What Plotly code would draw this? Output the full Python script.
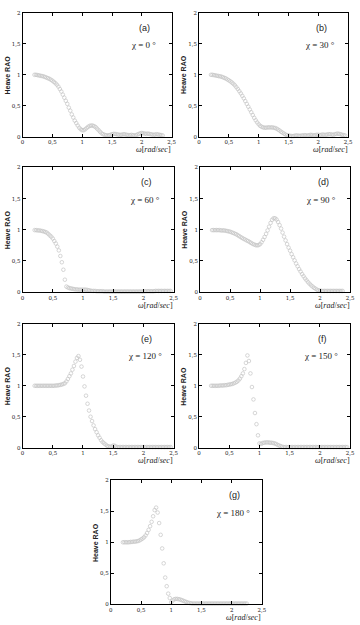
import plotly.graph_objects as go

omega = [0.2, 0.225, 0.25, 0.275, 0.3, 0.325, 0.35, 0.375, 0.4, 0.425,
         0.45, 0.475, 0.5, 0.525, 0.55, 0.575, 0.6, 0.625, 0.65, 0.675,
         0.7, 0.725, 0.75, 0.775, 0.8, 0.825, 0.85, 0.875, 0.9, 0.925,
         0.95, 0.975, 1.0, 1.025, 1.05, 1.075, 1.1, 1.125, 1.15, 1.175,
         1.2, 1.225, 1.25, 1.275, 1.3, 1.325, 1.35, 1.375, 1.4, 1.425,
         1.45, 1.475, 1.5, 1.525, 1.55, 1.575, 1.6, 1.625, 1.65, 1.675,
         1.7, 1.725, 1.75, 1.775, 1.8, 1.825, 1.85, 1.875, 1.9, 1.925,
         1.95, 1.975, 2.0, 2.025, 2.05, 2.075, 2.1, 2.125, 2.15, 2.175,
         2.2, 2.225, 2.25, 2.275, 2.3, 2.325, 2.35, 2.375, 2.4, 2.425,
         2.45]

rao_0 = [1.0, 1.0, 0.995, 0.99, 0.985, 0.98, 0.975, 0.965, 0.955, 0.945,
         0.935, 0.92, 0.905, 0.885, 0.865, 0.84, 0.81, 0.77, 0.73, 0.68,
         0.63, 0.58, 0.53, 0.47, 0.42, 0.36, 0.31, 0.26, 0.22, 0.18,
         0.145, 0.12, 0.105, 0.105, 0.12, 0.14, 0.16, 0.175, 0.18, 0.18,
         0.17, 0.155, 0.13, 0.105, 0.08, 0.055, 0.04, 0.03, 0.025, 0.02,
         0.025, 0.03, 0.04, 0.045, 0.045, 0.04, 0.035, 0.03, 0.03, 0.035,
         0.04, 0.035, 0.03, 0.025, 0.025, 0.03, 0.025, 0.02, 0.025, 0.035,
         0.045, 0.055, 0.06, 0.055, 0.05, 0.045, 0.05, 0.045, 0.04, 0.035,
         0.03, 0.035, 0.04, 0.035, 0.03, 0.025, 0.02, None, None, None,
         None]

rao_30 = [1.0, 1.0, 0.995, 0.99, 0.985, 0.98, 0.975, 0.97, 0.96, 0.95,
          0.94, 0.925, 0.91, 0.895, 0.875, 0.855, 0.83, 0.8, 0.77, 0.735,
          0.7, 0.66, 0.62, 0.575, 0.53, 0.485, 0.44, 0.395, 0.35, 0.305,
          0.265, 0.23, 0.2, 0.175, 0.16, 0.15, 0.145, 0.145, 0.15, 0.15,
          0.15, 0.15, 0.145, 0.14, 0.13, 0.115, 0.1, 0.08, 0.065, 0.05,
          0.035, 0.025, 0.02, 0.015, 0.01, 0.01, 0.015, 0.02, 0.02, 0.015,
          0.015, 0.02, 0.02, 0.025, 0.02, 0.02, 0.025, 0.03, 0.025, 0.02,
          0.025, 0.03, 0.03, 0.025, 0.03, 0.035, 0.03, 0.03, 0.035, 0.04,
          0.04, 0.035, 0.03, 0.04, 0.045, 0.05, 0.045, 0.04, 0.03, 0.025,
          0.02]

rao_60 = [0.995, 0.995, 0.99, 0.99, 0.985, 0.98, 0.975, 0.965, 0.955, 0.935,
          0.91, 0.89, 0.86, 0.82, 0.78, 0.73, 0.67, 0.58, 0.48, 0.36,
          0.2, 0.09, 0.075, 0.065, 0.06, 0.055, 0.05, 0.045, 0.045, 0.04,
          0.04, 0.04, 0.04, 0.04, 0.04, 0.035, 0.03, 0.025, 0.02, 0.02,
          0.02, 0.015, 0.015, 0.015, 0.015, 0.015, 0.01, 0.01, 0.01, 0.01,
          0.01, 0.01, 0.01, 0.01, 0.01, 0.01, 0.01, 0.01, 0.01, 0.01,
          0.01, 0.01, 0.01, 0.01, 0.01, 0.01, 0.01, 0.01, 0.01, 0.01,
          0.01, 0.01, 0.01, 0.015, 0.015, 0.015, 0.015, 0.015, 0.015, 0.015,
          0.02, 0.02, 0.02, 0.02, 0.02, 0.02, 0.02, 0.02, 0.02, 0.02,
          0.02]

rao_90 = [0.995, 0.995, 0.995, 0.995, 0.995, 0.995, 0.99, 0.99, 0.99, 0.985,
          0.98, 0.975, 0.97, 0.96, 0.95, 0.94, 0.93, 0.915, 0.9, 0.885,
          0.87, 0.855, 0.845, 0.83, 0.82, 0.805, 0.79, 0.775, 0.765, 0.755,
          0.75, 0.755, 0.77, 0.8, 0.84, 0.885, 0.935, 0.99, 1.05, 1.11,
          1.16, 1.185, 1.185, 1.165, 1.125, 1.075, 1.02, 0.955, 0.89, 0.83,
          0.77, 0.715, 0.665, 0.61, 0.56, 0.51, 0.46, 0.415, 0.37, 0.33,
          0.29, 0.255, 0.22, 0.19, 0.16, 0.135, 0.11, 0.09, 0.07, 0.055,
          0.04, 0.03, 0.025, 0.02, 0.02, 0.02, 0.02, 0.02, 0.02, 0.02,
          0.02, 0.02, 0.02, 0.02, 0.02, 0.02, 0.02, 0.02, None, None,
          None]

rao_120 = [1.0, 1.0, 1.0, 1.0, 1.0, 1.0, 1.0, 1.0, 1.0, 1.0,
           1.0, 1.0, 1.0, 1.0, 1.005, 1.005, 1.01, 1.015, 1.02, 1.03,
           1.04, 1.07, 1.11, 1.155, 1.2, 1.26, 1.32, 1.39, 1.45, 1.48,
           1.42, 1.31, 1.15, 0.99, 0.84, 0.71, 0.6, 0.5, 0.43, 0.36,
           0.3, 0.25, 0.2, 0.16, 0.12, 0.09, 0.07, 0.05, 0.03, 0.02,
           0.015, 0.02, 0.035, 0.03, 0.015, 0.01, 0.01, 0.01, 0.01, 0.01,
           0.01, 0.01, 0.01, 0.01, 0.01, 0.01, 0.01, 0.01, 0.01, 0.01,
           0.01, 0.01, 0.01, 0.01, 0.01, 0.01, 0.01, 0.01, 0.01, 0.01,
           0.01, 0.01, 0.01, 0.01, 0.01, 0.01, 0.01, 0.01, 0.01, 0.01,
           0.01]

rao_150 = [1.0, 1.0, 1.0, 1.0, 1.0, 1.0, 1.005, 1.005, 1.005, 1.01,
           1.01, 1.015, 1.02, 1.025, 1.03, 1.04, 1.05, 1.065, 1.085, 1.115,
           1.155, 1.2, 1.27, 1.37, 1.49, 1.4, 1.2, 0.98, 0.78, 0.56,
           0.38, 0.2, 0.07, 0.06, 0.075, 0.08, 0.085, 0.085, 0.085, 0.08,
           0.08, 0.075, 0.07, 0.06, 0.045, 0.035, 0.025, 0.015, 0.01, 0.01,
           0.01, 0.01, 0.01, 0.01, 0.01, 0.01, 0.01, 0.01, 0.01, 0.01,
           0.01, 0.01, 0.01, 0.01, 0.01, 0.01, 0.01, 0.01, 0.01, 0.01,
           0.01, 0.01, 0.01, 0.01, 0.01, 0.01, 0.01, 0.01, 0.01, 0.01,
           0.01, 0.01, 0.01, 0.01, 0.01, 0.01, 0.01, 0.01, 0.01, 0.01,
           0.01]

rao_180 = [1.0, 1.0, 1.0, 1.0, 1.0, 1.005, 1.005, 1.01, 1.01, 1.015,
           1.02, 1.03, 1.045, 1.06, 1.08, 1.11, 1.15, 1.2, 1.26, 1.33,
           1.42, 1.52, 1.56, 1.48, 1.31, 1.12, 0.9, 0.66, 0.43, 0.29,
           0.17, 0.1, 0.03, 0.06, 0.08, 0.085, 0.085, 0.08, 0.075, 0.065,
           0.055, 0.045, 0.035, 0.025, 0.02, 0.015, 0.01, 0.01, 0.01, 0.01,
           0.01, 0.01, 0.01, 0.01, 0.01, 0.01, 0.01, 0.01, 0.01, 0.01,
           0.01, 0.01, 0.01, 0.01, 0.01, 0.01, 0.01, 0.01, 0.01, 0.01,
           0.01, 0.01, 0.01, 0.01, 0.01, 0.01, 0.01, 0.01, 0.01, 0.01,
           0.01, 0.01, 0.01, None, None, None, None, None, None, None,
           None]

panel_letters = ["(a)", "(b)", "(c)", "(d)", "(e)", "(f)", "(g)"]
headings = ["0", "30", "60", "90", "120", "150", "180"]
series = [rao_0, rao_30, rao_60, rao_90, rao_120, rao_150, rao_180]

x_tickvals = [0, 0.5, 1, 1.5, 2, 2.5]
x_ticktext = ["0", "0,5", "1", "1,5", "2", "2,5"]
y_tickvals = [0, 0.5, 1, 1.5, 2]
y_ticktext = ["0", "0,5", "1", "1,5", "2"]

W, H = 360, 625
# pixel boxes (left, right, top, bottom) of each plot area
boxes = [(21, 173, 10, 135), (201, 353, 10, 135),
         (21, 175, 166, 292), (202, 355, 166, 292),
         (21, 175, 324, 449), (201, 355, 324, 449),
         (111, 265, 482, 607)]

fig = go.Figure()
layout = dict(width=W, height=H, margin=dict(l=0, r=0, t=0, b=0),
              paper_bgcolor="white", plot_bgcolor="white", showlegend=False)
annotations = []
tickfont = dict(family="DejaVu Serif", size=5.5, color="#222")

for k, (vals, (l, r, t, b)) in enumerate(zip(series, boxes)):
    n = "" if k == 0 else str(k + 1)
    fig.add_trace(go.Scatter(
        x=omega, y=vals, mode="markers", xaxis="x" + n, yaxis="y" + n,
        marker=dict(symbol="circle-open", size=3.6, color="#c4c4c4",
                    line=dict(width=0.7, color="#c4c4c4")),
        cliponaxis=False))
    common = dict(showline=True, linecolor="black", linewidth=1, mirror="ticks",
                  ticks="inside", ticklen=3, tickwidth=1, tickcolor="black",
                  showgrid=False, zeroline=False, tickfont=tickfont)
    layout["xaxis" + n] = dict(domain=[l / W, r / W], anchor="y" + n,
                               range=[0, 2.5], tickvals=x_tickvals,
                               ticktext=x_ticktext, **common)
    layout["yaxis" + n] = dict(domain=[1 - b / H, 1 - t / H], anchor="x" + n,
                               range=[0, 2], tickvals=y_tickvals,
                               ticktext=y_ticktext, **common)
    xr, yr = "x" + n, "y" + n
    annotations.append(dict(x=2.05, y=1.76, xref=xr, yref=yr, text=panel_letters[k],
                            showarrow=False, font=dict(family="Liberation Sans", size=9, color="#222")))
    annotations.append(dict(x=2.02, y=1.48, xref=xr, yref=yr,
                            text="χ = " + headings[k] + " °",
                            showarrow=False, font=dict(family="Liberation Serif", size=9, color="#222")))
    annotations.append(dict(x=1.01, y=-0.105, xref=xr + " domain", yref=yr + " domain",
                            xanchor="right", yanchor="middle",
                            text="<i>ω</i>[<i>rad</i>/<i>sec</i>]", showarrow=False,
                            font=dict(family="Liberation Serif", size=8, color="#222")))
    annotations.append(dict(x=-0.1, y=0.5, xref=xr + " domain", yref=yr + " domain",
                            xanchor="center", yanchor="middle", textangle=-90,
                            text="<b>Heave RAO</b>", showarrow=False,
                            font=dict(family="Liberation Sans", size=7, color="#222")))

layout["annotations"] = annotations
fig.update_layout(**layout)
fig.write_html("out.html")
